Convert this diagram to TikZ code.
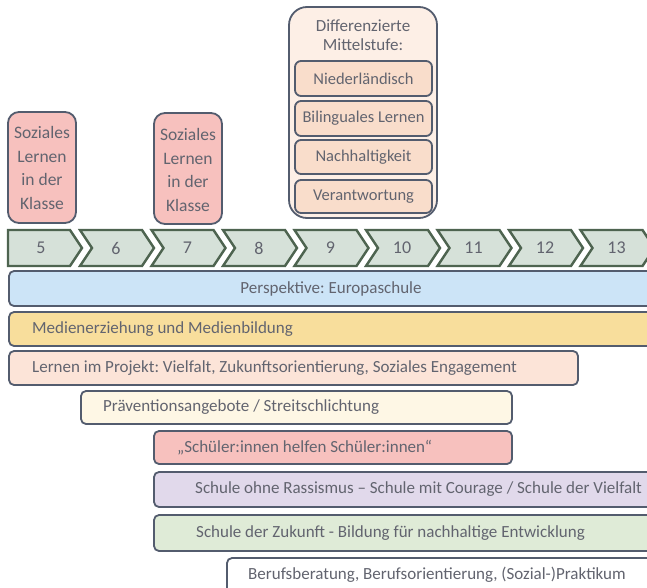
\documentclass[tikz,border=0pt]{standalone}
\usepackage{fontspec}
\setmainfont{Carlito}
\frenchspacing
\definecolor{edge}{HTML}{535C6E}
\definecolor{txt}{HTML}{62646F}
\definecolor{chevfill}{HTML}{D6E1D9}
\definecolor{chevedge}{HTML}{4E6450}
\definecolor{cblue}{HTML}{CCE4F7}
\definecolor{cyellow}{HTML}{F8DE9C}
\definecolor{cpeach}{HTML}{FCE4D8}
\definecolor{ccream}{HTML}{FEF7E5}
\definecolor{cpink}{HTML}{F7C1BE}
\definecolor{clav}{HTML}{E1D9EB}
\definecolor{cgreen}{HTML}{DFEBD7}
\definecolor{couter}{HTML}{FDEFE6}
\definecolor{cinner}{HTML}{F9DDCB}
\tikzset{
  barbox/.style={draw=edge, line width=1.8pt, rounded corners=5pt},
  bartext/.style={text=txt, inner sep=0pt, anchor=west, font=\fontsize{17}{20}\selectfont\frenchspacing},
  innertext/.style={text=txt, inner sep=0pt, font=\fontsize{16.5}{20}\selectfont},
  chev/.style={draw=chevedge, fill=chevfill, line width=2.4pt},
  chevlabel/.style={text=txt, inner sep=0pt, font=\fontsize{18}{20}\selectfont},
  colbox/.style={draw=edge, line width=1.8pt, rounded corners=11pt, fill=cpink},
  coltext/.style={text=txt, inner sep=0pt, align=center, font=\fontsize{17.5}{23.5}\selectfont},
  innerbox/.style={draw=edge, line width=1.8pt, rounded corners=6pt, fill=cinner},
}
\begin{document}
\begin{tikzpicture}[x=1pt,y=-1pt]
\useasboundingbox (0,0) rectangle (647,588);
\clip (0,0) rectangle (647,588);
\fill[white] (0,0) rectangle (647,588);

% Soziales Lernen boxes
\draw[colbox] (8,112) rectangle (76,223);
\node[coltext] (soz1) at (42,168) {Soziales\\Lernen\\in der\\Klasse};
\draw[colbox] (154,113) rectangle (222,224);
\node[coltext] (soz2) at (188,170) {Soziales\\Lernen\\in der\\Klasse};

% Differenzierte Mittelstufe
\draw[draw=edge, line width=1.8pt, rounded corners=18pt, fill=couter] (289,7) rectangle (437,218);
\node[text=txt, inner sep=0pt, align=center, font=\fontsize{17}{18.5}\selectfont] (diff) at (363,35) {Differenzierte\\Mittelstufe:};
\draw[innerbox] (295,61) rectangle (432,96);
\node[innertext] (nl) at (363.5,78.5) {Niederländisch};
\draw[innerbox] (295,101) rectangle (432,136);
\node[innertext] (bil) at (363.5,118.5) {Bilinguales Lernen};
\draw[innerbox] (295,140) rectangle (432,174);
\node[innertext] (nach) at (363.5,157) {Nachhaltigkeit};
\draw[innerbox] (295,180) rectangle (432,213);
\node[innertext] (ver) at (363.5,196.5) {Verantwortung};

% Chevrons
\draw[chev] (8,230) -- (70,230) -- (82,248) -- (70,266) -- (8,266) -- cycle;
\node[chevlabel] (g5) at (41,248) {5};
\foreach \k/\lab in {1/6,2/7,3/8,4/9,5/10,6/11,7/12,8/13}{
  \pgfmathsetmacro{\L}{80+71.5*(\k-1)}
  \draw[chev] (\L,230) -- ({\L+62},230) -- ({\L+74},248) -- ({\L+62},266) -- (\L,266) -- ({\L+12},248) -- cycle;
  \node[chevlabel] (g\lab) at ({\L+36},248) {\lab};
}

% Bars
\draw[barbox, fill=cblue] (9,271) rectangle (660,306);
\node[bartext, anchor=center] (euro) at (331,288.5) {Perspektive: Europaschule};
\draw[barbox, fill=cyellow] (9,312) rectangle (660,346);
\node[bartext] (medien) at (32,329) {Medienerziehung und Medienbildung};
\draw[barbox, fill=cpeach] (9,351) rectangle (578,385);
\node[bartext] (projekt) at (32,368) {Lernen im Projekt: Vielfalt, Zukunftsorientierung, Soziales Engagement};
\draw[barbox, fill=ccream] (81,391) rectangle (512,424);
\node[bartext] (praev) at (103,407.5) {Präventionsangebote / Streitschlichtung};
\draw[barbox, fill=cpink] (154,431) rectangle (512,464);
\node[bartext] (schueler) at (177,447.5) {„Schüler:innen helfen Schüler:innen“};
\draw[barbox, fill=clav] (154,472) rectangle (660,507);
\node[bartext] (rass) at (195,489.5) {Schule ohne Rassismus – Schule mit Courage / Schule der Vielfalt};
\draw[barbox, fill=cgreen] (154,515) rectangle (660,551);
\node[bartext] (zuk) at (196,533) {Schule der Zukunft - Bildung für nachhaltige Entwicklung};
\draw[barbox, fill=white] (227,558) rectangle (660,600);
\node[bartext] (beruf) at (248,575) {Berufsberatung, Berufsorientierung, (Sozial-)Praktikum};
\end{tikzpicture}
\end{document}
